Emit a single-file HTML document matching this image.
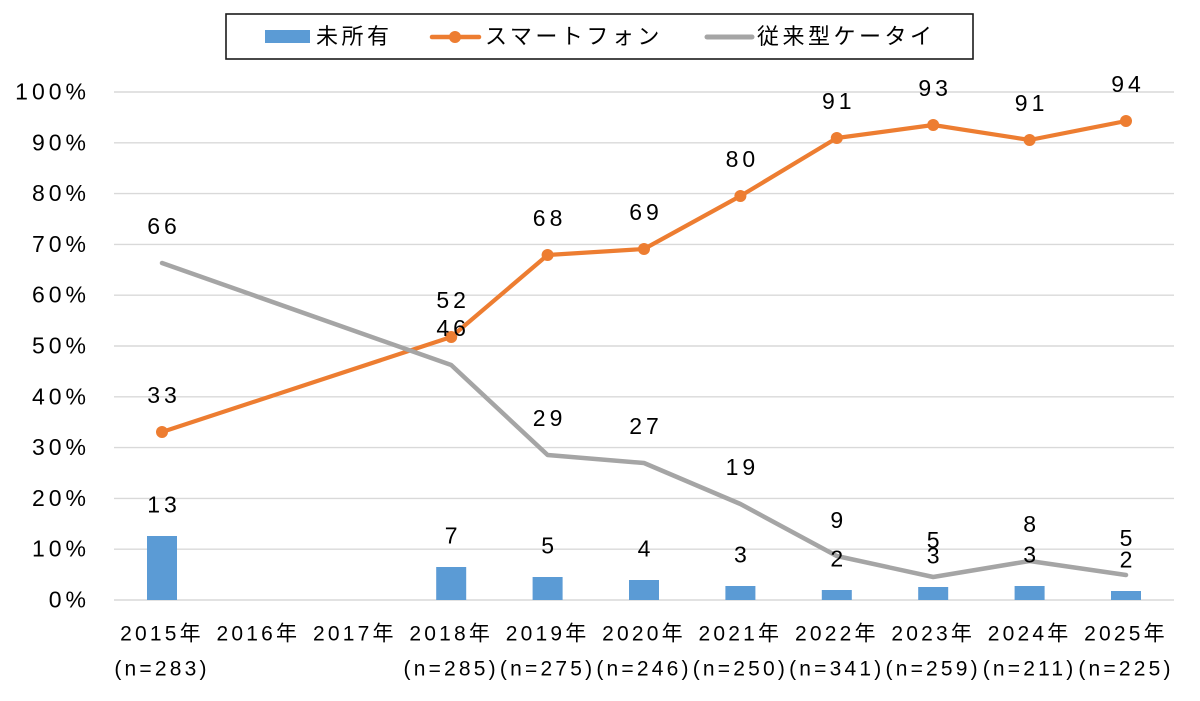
<!DOCTYPE html>
<html><head><meta charset="utf-8"><style>
html,body{margin:0;padding:0;background:#fff;}
svg{display:block;}
text{font-family:"Liberation Sans","Noto Sans CJK JP",sans-serif;fill:#000;}
.y{font-size:23px;letter-spacing:4px;text-anchor:end;}
.d{font-size:23px;letter-spacing:4px;text-anchor:middle;}
.x{font-size:21px;letter-spacing:3.2px;text-anchor:middle;}
.lg{font-size:22px;letter-spacing:3.5px;}
</style></head><body>
<svg width="1200" height="701" viewBox="0 0 1200 701" xmlns="http://www.w3.org/2000/svg">
<rect width="1200" height="701" fill="#fff"/>
<g stroke="#d9d9d9" stroke-width="1.4">
<line x1="114" y1="92" x2="1174" y2="92"/>
<line x1="114" y1="142.8" x2="1174" y2="142.8"/>
<line x1="114" y1="193.6" x2="1174" y2="193.6"/>
<line x1="114" y1="244.4" x2="1174" y2="244.4"/>
<line x1="114" y1="295.2" x2="1174" y2="295.2"/>
<line x1="114" y1="346" x2="1174" y2="346"/>
<line x1="114" y1="396.8" x2="1174" y2="396.8"/>
<line x1="114" y1="447.6" x2="1174" y2="447.6"/>
<line x1="114" y1="498.4" x2="1174" y2="498.4"/>
<line x1="114" y1="549.2" x2="1174" y2="549.2"/>
<line x1="114" y1="600" x2="1174" y2="600"/>
</g>
<g>
<text class="y" x="90" y="99.5">100%</text>
<text class="y" x="90" y="150.3">90%</text>
<text class="y" x="90" y="201.1">80%</text>
<text class="y" x="90" y="251.9">70%</text>
<text class="y" x="90" y="302.7">60%</text>
<text class="y" x="90" y="353.5">50%</text>
<text class="y" x="90" y="404.3">40%</text>
<text class="y" x="90" y="455.1">30%</text>
<text class="y" x="90" y="505.9">20%</text>
<text class="y" x="90" y="556.7">10%</text>
<text class="y" x="90" y="607.5">0%</text>
</g>
<g fill="#5b9bd5">
<rect x="147" y="536" width="30" height="64"/>
<rect x="436.2" y="567" width="30" height="33"/>
<rect x="532.6" y="577" width="30" height="23"/>
<rect x="629" y="580" width="30" height="20"/>
<rect x="725.4" y="586" width="30" height="14"/>
<rect x="821.8" y="590" width="30" height="10"/>
<rect x="918.2" y="587" width="30" height="13"/>
<rect x="1014.6" y="586" width="30" height="14"/>
<rect x="1111" y="591" width="30" height="9"/>
</g>
<polyline fill="none" stroke="#ed7d31" stroke-width="4.2" stroke-linejoin="round" points="162,432 451.2,337 547.6,255 644,249 740.4,196 836.8,138 933.2,125 1029.6,140 1126,121"/>
<g fill="#ed7d31">
<circle cx="162" cy="432" r="6"/>
<circle cx="451.2" cy="337" r="6"/>
<circle cx="547.6" cy="255" r="6"/>
<circle cx="644" cy="249" r="6"/>
<circle cx="740.4" cy="196" r="6"/>
<circle cx="836.8" cy="138" r="6"/>
<circle cx="933.2" cy="125" r="6"/>
<circle cx="1029.6" cy="140" r="6"/>
<circle cx="1126" cy="121" r="6"/>
</g>
<polyline fill="none" stroke="#a5a5a5" stroke-width="4.5" stroke-linejoin="round" stroke-linecap="round" points="162,263 451.2,365 547.6,455 644,463 740.4,504 836.8,556 933.2,577 1029.6,561 1126,575"/>
<g>
<text class="d" x="164" y="403">33</text>
<text class="d" x="453.2" y="308">52</text>
<text class="d" x="549.6" y="226">68</text>
<text class="d" x="646" y="220">69</text>
<text class="d" x="742.4" y="167">80</text>
<text class="d" x="838.8" y="109">91</text>
<text class="d" x="935.2" y="96">93</text>
<text class="d" x="1031.6" y="111">91</text>
<text class="d" x="1128" y="92">94</text>
</g>
<g>
<text class="d" x="164" y="234">66</text>
<text class="d" x="453.2" y="336">46</text>
<text class="d" x="549.6" y="426">29</text>
<text class="d" x="646" y="434">27</text>
<text class="d" x="742.4" y="475">19</text>
<text class="d" x="838.8" y="528">9</text>
<text class="d" x="935.2" y="548">5</text>
<text class="d" x="1031.6" y="532">8</text>
<text class="d" x="1128" y="546">5</text>
</g>
<g>
<text class="d" x="164" y="512.5">13</text>
<text class="d" x="453.2" y="543.5">7</text>
<text class="d" x="549.6" y="553.5">5</text>
<text class="d" x="646" y="556.5">4</text>
<text class="d" x="742.4" y="562.5">3</text>
<text class="d" x="838.8" y="566.5">2</text>
<text class="d" x="935.2" y="563.5">3</text>
<text class="d" x="1031.6" y="562.5">3</text>
<text class="d" x="1128" y="567.5">2</text>
</g>
<g>
<text class="x" x="162" y="640.5">2015年</text>
<text class="x" x="258.4" y="640.5">2016年</text>
<text class="x" x="354.8" y="640.5">2017年</text>
<text class="x" x="451.2" y="640.5">2018年</text>
<text class="x" x="547.6" y="640.5">2019年</text>
<text class="x" x="644" y="640.5">2020年</text>
<text class="x" x="740.4" y="640.5">2021年</text>
<text class="x" x="836.8" y="640.5">2022年</text>
<text class="x" x="933.2" y="640.5">2023年</text>
<text class="x" x="1029.6" y="640.5">2024年</text>
<text class="x" x="1126" y="640.5">2025年</text>
<text class="x" x="162" y="675.5">(n=283)</text>
<text class="x" x="451.2" y="675.5">(n=285)</text>
<text class="x" x="547.6" y="675.5">(n=275)</text>
<text class="x" x="644" y="675.5">(n=246)</text>
<text class="x" x="740.4" y="675.5">(n=250)</text>
<text class="x" x="836.8" y="675.5">(n=341)</text>
<text class="x" x="933.2" y="675.5">(n=259)</text>
<text class="x" x="1029.6" y="675.5">(n=211)</text>
<text class="x" x="1126" y="675.5">(n=225)</text>
</g>
<rect x="226" y="14" width="747" height="45" fill="#fff" stroke="#1a1a1a" stroke-width="1.6"/>
<rect x="265" y="30" width="45" height="13" fill="#5b9bd5"/>
<text class="lg" x="316" y="44">未所有</text>
<line x1="432" y1="37" x2="479" y2="37" stroke="#ed7d31" stroke-width="4.5" stroke-linecap="round"/>
<circle cx="455" cy="37" r="6" fill="#ed7d31"/>
<text class="lg" x="485" y="44">スマートフォン</text>
<line x1="707" y1="37" x2="752" y2="37" stroke="#a5a5a5" stroke-width="5" stroke-linecap="round"/>
<text class="lg" x="757" y="44">従来型ケータイ</text>
</svg>
</body></html>
